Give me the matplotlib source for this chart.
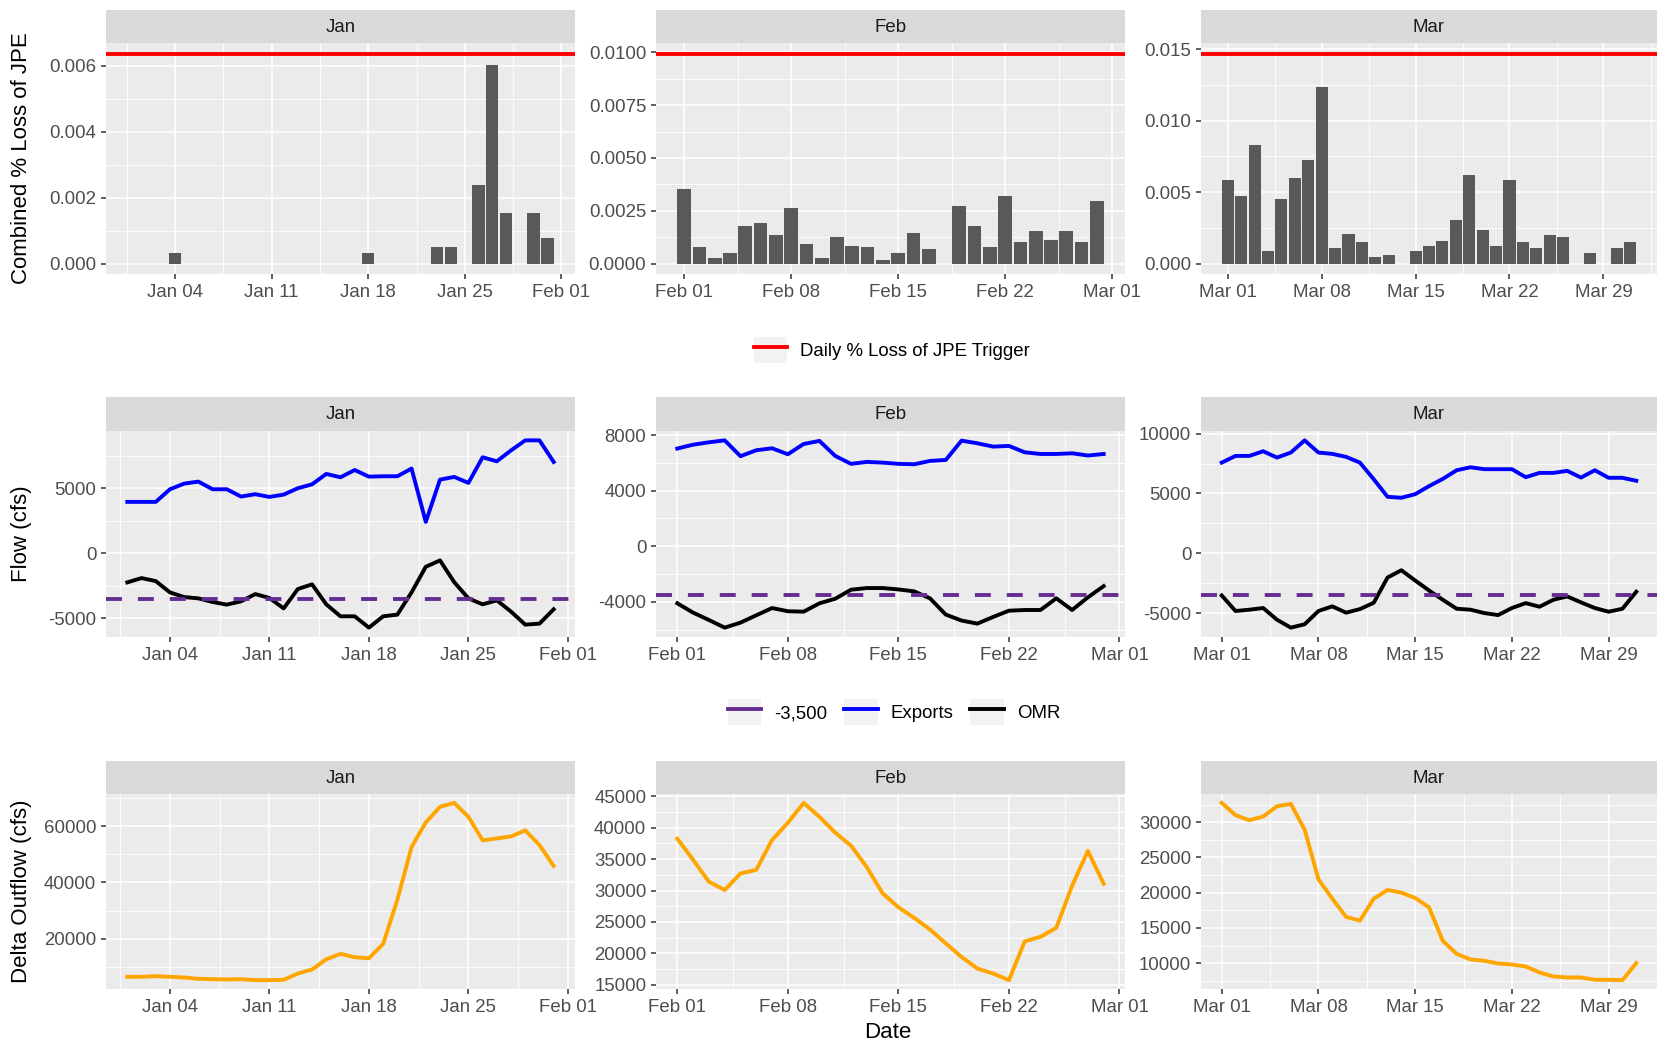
import numpy as np
import matplotlib
matplotlib.use("Agg")
import matplotlib.pyplot as plt
import matplotlib.dates as mdates
from matplotlib.lines import Line2D
from matplotlib.patches import Rectangle
from matplotlib.legend_handler import HandlerLine2D
from matplotlib.ticker import MultipleLocator, FormatStrFormatter

plt.rcParams['font.family'] = ['Liberation Sans', 'DejaVu Sans']
plt.rcParams['axes.unicode_minus'] = False

months = ['Jan', 'Feb', 'Mar']
month_first = ['2022-01-01', '2022-02-01', '2022-03-01']
month_next = ['2022-02-01', '2022-03-01', '2022-04-01']

# combined daily % loss of JPE
jan_loss = [0, 0, 0, 0.00033, 0, 0, 0, 0, 0, 0, 0, 0, 0, 0, 0, 0, 0, 0.00033,
            0, 0, 0, 0, 0.00051, 0.00051, 0, 0.00238, 0.00602, 0.00153, 0,
            0.00153, 0.00076]
feb_loss = [0.00355, 0.00076, 0.00024, 0.00051, 0.00179, 0.00194, 0.00134,
            0.00262, 0.00093, 0.00024, 0.00125, 0.00084, 0.00076, 0.00017,
            0.00051, 0.00144, 0.00068, 0, 0.00272, 0.00179, 0.00076, 0.00322,
            0.00101, 0.00153, 0.00111, 0.00153, 0.00101, 0.00296]
mar_loss = [0.00582, 0.00470, 0.00831, 0.00091, 0.00449, 0.00599, 0.00727,
            0.01234, 0.00112, 0.00210, 0.00154, 0.00049, 0.00058, 0, 0.00086,
            0.00126, 0.00161, 0.00303, 0.00620, 0.00238, 0.00126, 0.00582,
            0.00154, 0.00112, 0.00203, 0.00186, 0, 0.00072, 0, 0.00109, 0.00154]
loss_trigger = [0.00637, 0.00995, 0.0147]

# exports and OMR flow (cfs)
jan_exports = [3940, 3940, 3940, 4910, 5345, 5500, 4910, 4910, 4350, 4530, 4320,
               4500, 4990, 5290, 6090, 5830, 6390, 5880, 5910, 5910, 6500, 2400,
               5650, 5860, 5400, 7370, 7060, 7900, 8670, 8670, 7010]
feb_exports = [7030, 7310, 7480, 7620, 6480, 6910, 7050, 6620, 7360, 7580, 6500,
               5930, 6070, 6020, 5930, 5900, 6140, 6210, 7600, 7410, 7170, 7220,
               6760, 6640, 6640, 6690, 6530, 6640]
mar_exports = [7580, 8140, 8140, 8530, 8000, 8420, 9440, 8420, 8310, 8060, 7580,
               6190, 4720, 4640, 4940, 5610, 6220, 6940, 7190, 7030, 7030, 7030,
               6360, 6720, 6720, 6890, 6330, 6940, 6310, 6310, 6060]
jan_omr = [-2250, -1920, -2150, -3020, -3380, -3480, -3760, -3960, -3710, -3150,
           -3450, -4250, -2760, -2400, -3940, -4860, -4860, -5730, -4860, -4730,
           -3020, -1050, -560, -2230, -3480, -3940, -3630, -4500, -5500, -5420,
           -4320]
feb_omr = [-4110, -4780, -5310, -5860, -5500, -4970, -4450, -4680, -4710, -4110,
           -3780, -3130, -3010, -3010, -3110, -3250, -3750, -4920, -5350, -5570,
           -5090, -4640, -4590, -4590, -3750, -4590, -3680, -2870]
mar_omr = [-3530, -4830, -4720, -4580, -5560, -6220, -5940, -4830, -4440, -4970,
           -4670, -4140, -2030, -1420, -2280, -3110, -3890, -4640, -4720, -5000,
           -5170, -4580, -4170, -4470, -3890, -3610, -4110, -4580, -4890, -4640,
           -3220]
omr_limit = -3500

# delta outflow (cfs)
jan_outflow = [6590, 6590, 6820, 6590, 6350, 5880, 5760, 5650, 5760, 5410, 5410,
               5530, 7760, 9170, 12820, 14700, 13530, 13170, 18230, 33870, 52570,
               61270, 66800, 68210, 63270, 54920, 55620, 56330, 58450, 53270,
               45860]
feb_outflow = [38250, 34880, 31400, 30080, 32710, 33290, 38040, 40780, 43950,
               41730, 39200, 37140, 33720, 29550, 27340, 25650, 23800, 21590,
               19430, 17580, 16790, 15740, 21900, 22640, 24070, 30760, 36300,
               31080]
mar_outflow = [32740, 30990, 30280, 30800, 32260, 32590, 28960, 21890, 19150,
               16560, 16040, 19150, 20380, 20000, 19250, 17930, 13160, 11320,
               10520, 10330, 9950, 9810, 9530, 8680, 8110, 7970, 7970, 7640,
               7640, 7590, 10000]

loss = [jan_loss, feb_loss, mar_loss]
exports = [jan_exports, feb_exports, mar_exports]
omr = [jan_omr, feb_omr, mar_omr]
outflow = [jan_outflow, feb_outflow, mar_outflow]

loss_steps = [(0.002, '%.3f'), (0.0025, '%.4f'), (0.005, '%.3f')]
flow_steps = [5000, 4000, 5000]
outflow_steps = [20000, 5000, 5000]

W, H = 1658, 1040
fig = plt.figure(figsize=(W / 100, H / 100), dpi=100)
fig.patch.set_facecolor('white')

# panel layout in pixels
col_px = [(106, 575), (656, 1125), (1201, 1657)]
row_px = [(10, 43, 274), (397, 431, 637), (761, 794, 989)]

TXT = 13.4
TITLE = 16
LW = 2.8


def add_panel(r, c):
    left, right = col_px[c]
    top_strip, top, bottom = row_px[r]
    ax = fig.add_axes([left / W, 1 - bottom / H, (right - left) / W, (bottom - top) / H])
    sax = fig.add_axes([left / W, 1 - top / H, (right - left) / W, (top - top_strip) / H])
    sax.set_facecolor('#D9D9D9')
    sax.set_xticks([])
    sax.set_yticks([])
    for s in sax.spines.values():
        s.set_visible(False)
    sax.text(0.5, 0.48, months[c], ha='center', va='center', fontsize=TXT, color='#1A1A1A')

    ax.set_facecolor('#EBEBEB')
    for s in ax.spines.values():
        s.set_visible(False)
    ax.set_axisbelow(True)
    ax.grid(which='major', color='white', lw=1.1)
    ax.grid(which='minor', color='white', lw=0.6)
    ax.tick_params(which='major', length=3.9, width=1.1, color='#333333',
                   labelcolor='#4D4D4D', labelsize=TXT, pad=3.1)
    ax.tick_params(which='minor', length=0)
    ax.xaxis.set_major_locator(mdates.WeekdayLocator(byweekday=mdates.TU))
    ax.xaxis.set_minor_locator(mdates.RRuleLocator(
        mdates.rrulewrapper(mdates.WEEKLY, byweekday=mdates.FR, byhour=12)))
    ax.xaxis.set_major_formatter(mdates.DateFormatter('%b %d'))
    return ax


def expand(lo, hi, f=0.05):
    d = (hi - lo) * f
    return lo - d, hi + d


for c in range(3):
    days = mdates.date2num(np.arange(np.datetime64(month_first[c]),
                                     np.datetime64(month_next[c])))

    # row 1: daily loss bars with trigger line
    ax = add_panel(0, c)
    ax.bar(days, loss[c], width=0.9, color='#595959')
    ax.axhline(loss_trigger[c], color='#FF0000', lw=LW)
    ax.set_xlim(*expand(days[0] - 0.45, days[-1] + 0.45))
    ax.set_ylim(*expand(0, max(max(loss[c]), loss_trigger[c])))
    step, fmt = loss_steps[c]
    ax.yaxis.set_major_locator(MultipleLocator(step))
    ax.yaxis.set_minor_locator(MultipleLocator(step / 2))
    ax.yaxis.set_major_formatter(FormatStrFormatter(fmt))

    # row 2: exports and OMR
    ax = add_panel(1, c)
    ax.plot(days, exports[c], color='#0000FF', lw=LW, solid_joinstyle='round')
    ax.plot(days, omr[c], color='black', lw=LW, solid_joinstyle='round')
    ax.axhline(omr_limit, color='#662D91', lw=LW, dashes=(4.1, 4.1))
    ax.set_xlim(*expand(days[0], days[-1]))
    ax.set_ylim(*expand(min(min(omr[c]), omr_limit), max(exports[c])))
    ax.yaxis.set_major_locator(MultipleLocator(flow_steps[c]))
    ax.yaxis.set_minor_locator(MultipleLocator(flow_steps[c] / 2))
    ax.yaxis.set_major_formatter(FormatStrFormatter('%d'))

    # row 3: delta outflow
    ax = add_panel(2, c)
    ax.plot(days, outflow[c], color='#FFA500', lw=LW, solid_joinstyle='round')
    ax.set_xlim(*expand(days[0], days[-1]))
    ax.set_ylim(*expand(min(outflow[c]), max(outflow[c])))
    ax.yaxis.set_major_locator(MultipleLocator(outflow_steps[c]))
    ax.yaxis.set_minor_locator(MultipleLocator(outflow_steps[c] / 2))
    ax.yaxis.set_major_formatter(FormatStrFormatter('%d'))


class KeyBox(HandlerLine2D):
    # legend key drawn on a light grey square
    def create_artists(self, legend, orig_handle, xdescent, ydescent, width,
                       height, fontsize, trans):
        box = Rectangle((-xdescent, -ydescent), width, height,
                        facecolor='#F2F2F2', edgecolor='none', transform=trans)
        arts = super().create_artists(legend, orig_handle, xdescent, ydescent,
                                      width, height, fontsize, trans)
        return [box] + arts


leg_kw = dict(loc='center', frameon=False, fontsize=TXT, handlelength=1.8,
              handleheight=1.7, handletextpad=0.7, columnspacing=0.9,
              handler_map={Line2D: KeyBox(marker_pad=0.15)})

fig.legend(handles=[Line2D([], [], color='#FF0000', lw=LW)],
           labels=['Daily % Loss of JPE Trigger'],
           bbox_to_anchor=(892 / W, 1 - 350 / H), **leg_kw)
fig.legend(handles=[Line2D([], [], color='#662D91', lw=LW),
                    Line2D([], [], color='#0000FF', lw=LW),
                    Line2D([], [], color='black', lw=LW)],
           labels=['-3,500', 'Exports', 'OMR'], ncol=3,
           bbox_to_anchor=(894 / W, 1 - 712 / H), **leg_kw)

fig.text(22 / W, 1 - 158 / H, 'Combined % Loss of JPE', rotation=90,
         ha='center', va='center', fontsize=TITLE, color='black')
fig.text(22 / W, 1 - 534 / H, 'Flow (cfs)', rotation=90,
         ha='center', va='center', fontsize=TITLE, color='black')
fig.text(22 / W, 1 - 891 / H, 'Delta Outflow (cfs)', rotation=90,
         ha='center', va='center', fontsize=TITLE, color='black')
fig.text(888 / W, 1 - 1038 / H, 'Date', ha='center', va='baseline',
         fontsize=TITLE, color='black')

fig.savefig('out.png', dpi=100)
